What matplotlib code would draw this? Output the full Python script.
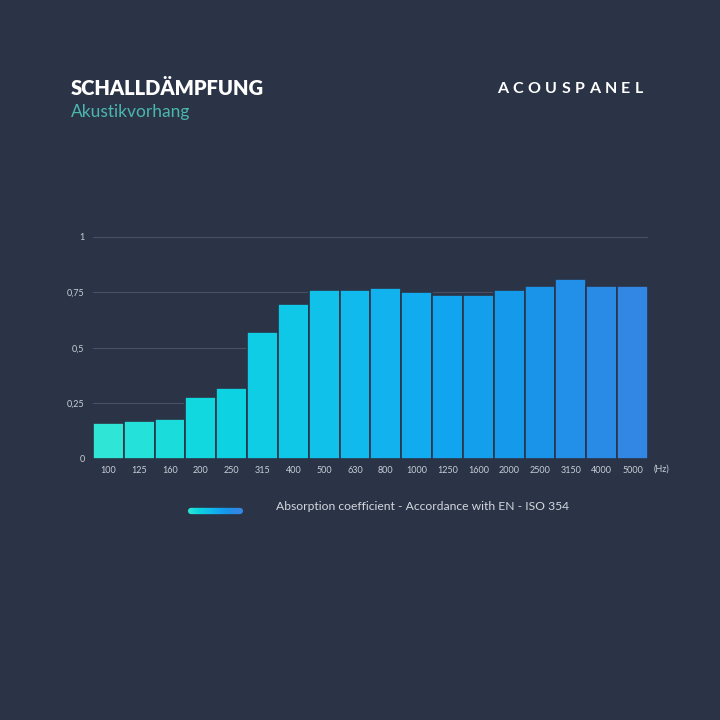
import matplotlib.pyplot as plt
import numpy as np
from matplotlib.colors import LinearSegmentedColormap
from matplotlib.collections import LineCollection

plt.rcParams['font.family'] = ['Lato', 'DejaVu Sans']

freqs = ['100', '125', '160', '200', '250', '315', '400', '500', '630', '800',
         '1000', '1250', '1600', '2000', '2500', '3150', '4000', '5000']
absorption = [0.16, 0.17, 0.18, 0.28, 0.32, 0.57, 0.70, 0.76, 0.76, 0.77,
              0.75, 0.74, 0.74, 0.76, 0.78, 0.81, 0.78, 0.78]
yticks = [0, 0.25, 0.5, 0.75, 1]
yticklabels = ['0', '0,25', '0,5', '0,75', '1']

bg = '#2b3447'
cmap = LinearSegmentedColormap.from_list(
    'acous', ['#2ee5d6', '#0cd6df', '#10c2ea', '#11aaf0', '#1696ea', '#3387e4'])

fig = plt.figure(figsize=(7.2, 7.2), dpi=100, facecolor=bg)
ax = fig.add_axes([0.129, 0.3625, 0.771, 0.3085], facecolor=bg)

x = np.arange(len(freqs))
colors = [cmap(i / (len(freqs) - 1)) for i in x]
ax.bar(x, absorption, width=1.0, color=colors, edgecolor=bg, linewidth=1.2, zorder=3)

ax.set_xlim(-0.5, len(freqs) - 0.5)
ax.set_ylim(0, 1)
ax.set_yticks(yticks)
ax.set_yticklabels(yticklabels)
ax.set_xticks(x)
ax.set_xticklabels(freqs)
ax.tick_params(axis='both', length=0, colors='#c9ced6', labelsize=6.5)
ax.tick_params(axis='y', pad=6)
ax.tick_params(axis='x', pad=5)
ax.yaxis.grid(True, color='#475066', linewidth=0.8, zorder=0)
for s in ax.spines.values():
    s.set_visible(False)

fig.text(0.908, 0.349, '(Hz)', color='#c9ced6', fontsize=6.5, va='center', ha='left')

# header
fig.text(0.098, 0.877, 'SCHALLDÄMPFUNG', color='white', fontsize=14.5,
         fontweight='heavy', va='center', ha='left')
fig.text(0.098, 0.845, 'Akustikvorhang', color='#4cb6ae', fontsize=12.5,
         va='center', ha='left')

# letter-spaced brand name
renderer = fig.canvas.get_renderer()
brand = 'ACOUSPANEL'
px = 497
for ch in brand:
    t = fig.text(px / 720, 0.876, ch, color='white', fontsize=11.5,
                 fontweight='bold', va='center', ha='left')
    px += t.get_window_extent(renderer).width + 4.4

# legend swatch with gradient
xs = np.linspace(0.265, 0.333, 40)
segs = [[(xs[i], 0.290), (xs[i + 1], 0.290)] for i in range(len(xs) - 1)]
lc = LineCollection(segs, colors=[cmap(v) for v in np.linspace(0, 1, len(segs))],
                    linewidths=4.5, capstyle='round', transform=fig.transFigure)
fig.add_artist(lc)
fig.text(0.383, 0.296, 'Absorption coefficient - Accordance with EN - ISO 354',
         color='#d3d7de', fontsize=8.7, va='center', ha='left')

fig.savefig('out.png', dpi=100, facecolor=bg)
